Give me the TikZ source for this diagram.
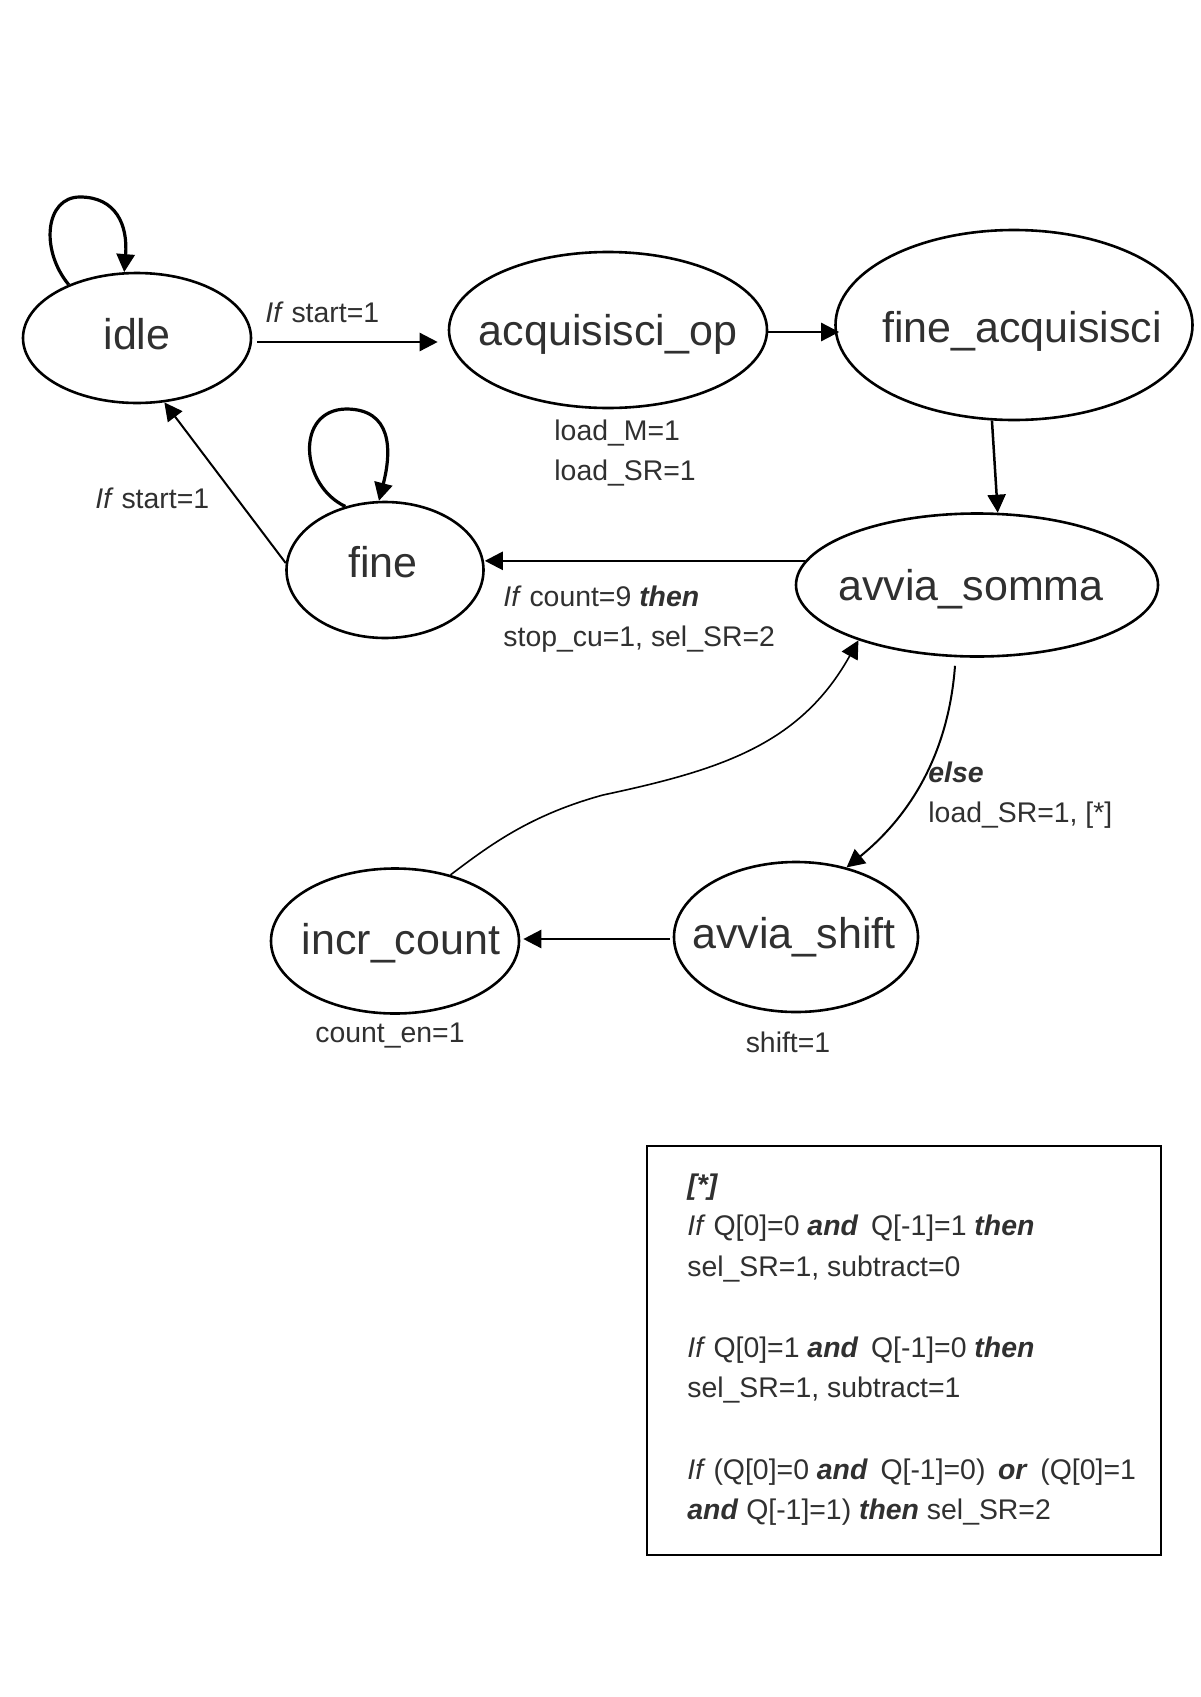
\documentclass[tikz,border=0pt]{standalone}
\usepackage{fontspec}
\setmainfont{Liberation Sans}
\usetikzlibrary{arrows.meta,calc,shapes.geometric}
\definecolor{ink}{HTML}{303030}
\newcommand{\kwd}[1]{\textbf{\textit{#1}}}
\begin{document}
\begin{tikzpicture}[x=0.5pt,y=-0.5pt,
  state/.style={draw=black,line width=1.3pt,ellipse,inner sep=0pt},
  stxt/.style={text=ink,inner sep=0pt,font=\fontsize{21.5}{24}\selectfont},
  lbl/.style={text=ink,font=\fontsize{14.2}{20.3}\selectfont,align=left,inner sep=0pt},
  edge/.style={draw=black,line width=1.25pt,-{Triangle[length=9pt,width=9pt]}},
  loopedge/.style={edge,line width=1.6pt},
  slimedge/.style={edge,line width=1pt},
  thinedge/.style={draw=black,line width=0.8pt,-{Triangle[length=9pt,width=9pt]}},
]
\useasboundingbox[fill=white] (0,0) rectangle (1200,1697);

% states (ellipse sizes fixed, names set as centred labels)
\node[state,minimum width=114pt,minimum height=65pt,
  label={[stxt,yshift=2pt]center:idle}] (idle) at (137,338) {};
\node[state,minimum width=159pt,minimum height=78pt,
  label={[stxt,yshift=-2pt]center:acquisisci\_op}] (acq) at (608,330) {};
\node[state,minimum width=178.5pt,minimum height=95pt,
  label={[stxt,xshift=4pt,yshift=-3pt]center:fine\_acquisisci}] (facq) at (1014,325) {};
\node[state,minimum width=181pt,minimum height=71.5pt,
  label={[stxt,xshift=-3pt,yshift=-2pt]center:avvia\_somma}] (somma) at (977,585) {};
\node[state,minimum width=98.5pt,minimum height=68pt,
  label={[stxt,yshift=4pt,xshift=-1pt]center:fine}] (fine) at (385,570) {};
\node[state,minimum width=122pt,minimum height=75pt,
  label={[stxt,xshift=-1pt]center:avvia\_shift}] (shift) at (796,937) {};
\node[state,minimum width=124pt,minimum height=72.5pt,
  label={[stxt,xshift=3pt,yshift=-1pt]center:incr\_count}] (incr) at (395,941) {};

% outputs and conditions
\node[lbl,anchor=west] (lstart)  at (265,312)  {\textit{If} start=1};
\node[lbl,anchor=west] (lacq)    at (554,453)  {load\_M=1\\load\_SR=1};
\node[lbl,anchor=west] (lcount)  at (503,619)  {\textit{If} count=9 \kwd{then}\\stop\_cu=1, sel\_SR=2};
\node[lbl,anchor=west] (lback)   at (95,498)   {\textit{If} start=1};
\node[lbl,anchor=west] (lelse)   at (928,795)  {\kwd{else}\\load\_SR=1, [*]};
\node[lbl]             (lincr)   at (390,1036) {count\_en=1};
\node[lbl]             (lshift)  at (788,1042) {shift=1};

% self loops
\draw[loopedge] (idle.142) .. controls (40,250) and (45,197) .. (80,197)
                .. controls (116,197) and (128,225) .. (idle.101);
\draw[loopedge] (fine.122) .. controls (300,485) and (295,410) .. (346,409)
                .. controls (392,409) and (392,450) .. (fine.95);

% transitions
\draw[edge] ($(idle.east)+(5,4)$) -- ($(acq.west)+(-10,12)$);
\draw[edge] ($(acq.east)+(0,2)$) -- ($(facq.west)+(5,7)$);
\draw[edge] (facq.257) -- (somma.74);
\draw[edge] (somma.172) -- (somma.172 -| fine.east);
\draw[slimedge] (fine.176) -- (idle.293);
\coordinate (sdown) at ($(somma.south)+(-22,8)$);
\draw[slimedge] (sdown) .. controls (948,760) and (905,820) .. (shift.54);
\draw[edge] ($(shift.west)+(-3,2)$) -- ($(shift.west -| incr.east)+(3,2)$);
\draw[thinedge] (incr.50) .. controls (490,845) and (530,815) .. (603,795)
                .. controls (720,770) and (800,745) .. (somma.205);

% legend for [*]
\draw[line width=1.25pt] (647,1146) rectangle (1161,1555);
\node[lbl,anchor=west] (legend) at (687,1350) {%
\kwd{[*]}\\
\textit{If} Q[0]=0 \kwd{and} \,Q[-1]=1 \kwd{then}\\
sel\_SR=1, subtract=0\\[20.3pt]
\textit{If} Q[0]=1 \kwd{and} \,Q[-1]=0 \kwd{then}\\
sel\_SR=1, subtract=1\\[20.3pt]
\textit{If} (Q[0]=0 \kwd{and} \,Q[-1]=0) \,\kwd{or} \,(Q[0]=1\\
\kwd{and} Q[-1]=1) \kwd{then} sel\_SR=2};
\end{tikzpicture}
\end{document}
